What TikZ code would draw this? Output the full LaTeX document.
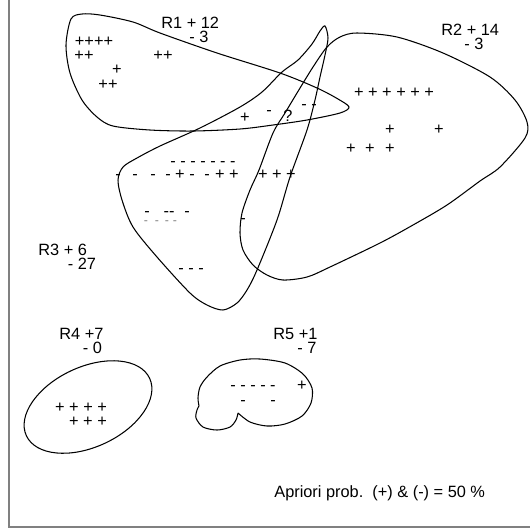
\documentclass[tikz,border=0pt]{standalone}
\usepackage{fontspec}
\setmainfont{Liberation Sans}
\begin{document}
\begin{tikzpicture}[
    x=0.02cm, y=-0.02cm,
    every node/.style={font=\fontsize{9.3}{11}\selectfont},
    lbl/.style={anchor=base west, inner sep=0pt},
    sgn/.style={inner sep=0pt, text height=4.3pt, text depth=-1.7pt},
    faint/.style={sgn, text=gray, font=\fontsize{7}{8}\selectfont, text height=2.8pt, text depth=-1.2pt},
    region/.style={line width=0.6pt},
    frame/.style={draw=gray, line width=1pt}
  ]
  \useasboundingbox (0,0) rectangle (530,529);
  \draw[frame] (9,0) -- (9,527) -- (530,527);

  % rule regions
  \draw[region] plot[smooth cycle] coordinates {(349,107) (338,99) (317,88) (280,73) (217,53) (160,33) (133,22) (100,15) (82,14) (71,19) (66,45) (70,73) (82,100) (97,117) (113,126) (150,130) (193,131) (240,129) (273,125) (307,120) (340,113)};
  \draw[region] plot[smooth cycle] coordinates {(357,33) (397,37) (443,53) (490,77) (515,100) (527,122) (525,138) (500,167) (480,181) (447,205) (413,225) (380,243) (330,267) (307,277) (283,280) (267,275) (253,265) (243,250) (240,233) (242,213) (250,190) (259,170) (273,133) (285,113) (297,93) (313,67) (327,47) (340,37)};
  \draw[region] plot[smooth cycle] coordinates {(325,26) (328,38) (325,55) (320,77) (315,100) (307,130) (290,177) (277,220) (257,270) (247,290) (237,303) (223,310) (207,305) (190,293) (157,257) (133,227) (122,200) (118,180) (123,167) (137,158) (160,146) (200,128) (240,107) (262,92) (282,72) (298,60) (312,44) (320,31)};
  \draw[region, rotate around={25:(88,407)}] (88,407) ellipse [x radius=1.36cm, y radius=0.8cm];
  \draw[region] plot[smooth] coordinates {(238,413) (236,420) (230,427) (217,430) (203,427) (196,418) (197,410) (199,406)}
    plot[smooth] coordinates {(199,406) (198,398) (200,387) (207,377) (220,366) (240,360) (260,359) (285,363) (303,374) (312,388) (311,403) (302,416) (285,424) (267,426) (250,422) (238,413)};

  % counts
  \node[lbl] (r1) at (161,28.5) {R1 + 12};
  \node[lbl] (r1n) at (189,42.5) {- 3};
  \node[lbl] (r2) at (441,35.7) {R2 + 14};
  \node[lbl] (r2n) at (464,49) {- 3};
  \node[lbl] (r3) at (38,255.7) {R3 + 6};
  \node[lbl] (r3n) at (67.5,269) {- 27};
  \node[lbl] (r4) at (59,339.3) {R4 +7};
  \node[lbl] (r4n) at (82.5,353.3) {- 0};
  \node[lbl] (r5) at (273,339.3) {R5 +1};
  \node[lbl] (r5n) at (297,353.3) {- 7};
  \node[lbl] (prior) at (274,497.3) {Apriori prob.\ \ (+) \& (-) = 50 \%};

  % examples in R1
  \node[sgn] (p1) at (94,43) {++++};
  \node[sgn] (p2) at (84,57) {++};
  \node[sgn] (p3) at (163,57) {++};
  \node[sgn] (p4) at (117,71) {+};
  \node[sgn] (p5) at (108,86) {++};
  \node[sgn] (p6) at (245,119) {+};
  \node[sgn] (n1) at (269,112) {-};
  \node[sgn] (q) at (288,118) {?};
  \node[sgn] (n2) at (309,106) {- -};
  % examples in R2
  \node[sgn] (p7) at (394,94) {+ + + + + +};
  \node[sgn] (p8) at (390,131) {+};
  \node[sgn] (p9) at (439,131) {+};
  \foreach \x in {351,370,390}
    \node[sgn] (pb\x) at (\x,150) {+};
  % examples in R3
  \node[sgn] (n3) at (203,163) {- - - - - - -};
  \foreach \x/\s in {118/-,135/-,153/-,168/-,180/+,192/-,207/-,220/+,234/+,263/+,277/+,291/+}
    \node[sgn] (m\x) at (\x,176) {\s};
  \node[sgn] (n4) at (147,213) {-};
  \node[sgn] (n5) at (169,213) {-{}-};
  \node[sgn] (n6) at (187,213) {-};
  \foreach \x in {146,157,167,175}
    \node[faint] (f\x) at (\x,222) {-};
  \node[sgn] (n7) at (243,220) {-};
  \node[sgn] (n8) at (191,270) {- - -};
  % examples in R4 and R5
  \node[sgn] (p10) at (81,409) {+ + + +};
  \node[sgn] (p11) at (88,423) {+ + +};
  \node[sgn] (n9) at (253,387) {- - - - -};
  \node[sgn] (p12) at (302,387) {+};
  \node[sgn] (n10) at (243,402) {-};
  \node[sgn] (n11) at (273,402) {-};
\end{tikzpicture}
\end{document}
